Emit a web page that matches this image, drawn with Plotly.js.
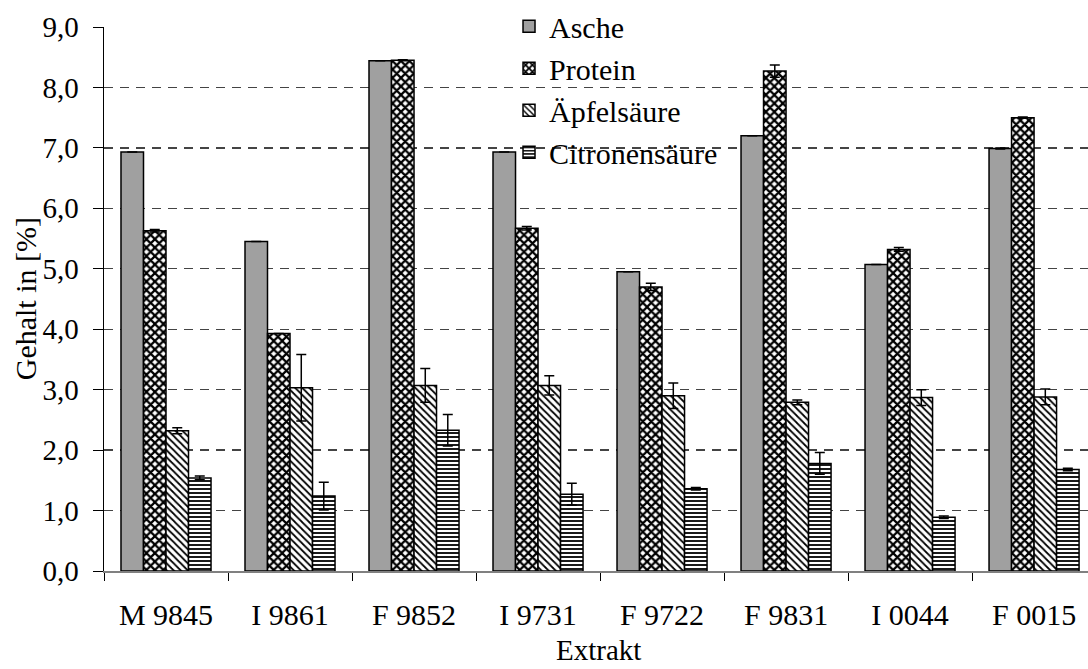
<!DOCTYPE html>
<html>
<head>
<meta charset="utf-8">
<script src="https://cdn.plot.ly/plotly-3.0.1.min.js"></script>
<style>
  html, body { margin: 0; padding: 0; background: #fff; }
  #chart { width: 1088px; height: 669px; }
</style>
</head>
<body>
<div id="chart"></div>
<script>
// ---- data ----
const categories = ['M 9845', 'I 9861', 'F 9852', 'I 9731', 'F 9722', 'F 9831', 'I 0044', 'F 0015'];
const seriesNames = ['Asche', 'Protein', 'Äpfelsäure', 'Citronensäure'];
const asche   = [6.93, 5.45, 8.44, 6.93, 4.95, 7.20, 5.07, 6.99];
const protein = [5.63, 3.93, 8.45, 5.67, 4.70, 8.27, 5.32, 7.50];
const apfel   = [2.32, 3.03, 3.07, 3.07, 2.90, 2.79, 2.87, 2.88];
const citron  = [1.54, 1.24, 2.33, 1.27, 1.36, 1.78, 0.89, 1.68];
const ascheErr   = [0, 0, 0, 0, 0, 0, 0, 0.01];
const proteinErr = [0.02, 0, 0.01, 0.03, 0.06, 0.10, 0.03, 0.01];
const apfelErr   = [0.05, 0.55, 0.28, 0.16, 0.21, 0.04, 0.13, 0.13];
const citronErr  = [0.03, 0.23, 0.26, 0.18, 0.02, 0.18, 0.02, 0.02];
const yTicks = [0, 1, 2, 3, 4, 5, 6, 7, 8, 9];
const xTitle = 'Extrakt';
const yTitle = 'Gehalt in [%]';

const FONT = 'Liberation Serif';
const fnt = (s) => ({ family: FONT, size: s, color: '#000' });
const outline = { color: '#000', width: 1.5 };
const errStyle = (arr) => ({ type: 'data', array: arr, visible: true, color: '#000', thickness: 1.5, width: 5 });

const traces = [
  { name: seriesNames[0], y: asche, err: ascheErr,
    marker: { color: '#a0a0a0', line: outline } },
  { name: seriesNames[1], y: protein, err: proteinErr,
    marker: { color: '#fff', line: outline, pattern: { shape: 'x', size: 6, solidity: 0.6, fgcolor: '#000', bgcolor: '#fff', fillmode: 'replace' } } },
  { name: seriesNames[2], y: apfel, err: apfelErr,
    marker: { color: '#fff', line: outline, pattern: { shape: '\\', size: 5, solidity: 0.35, fgcolor: '#000', bgcolor: '#fff', fillmode: 'replace' } } },
  { name: seriesNames[3], y: citron, err: citronErr,
    marker: { color: '#fff', line: outline, pattern: { shape: '-', size: 4, solidity: 0.45, fgcolor: '#000', bgcolor: '#fff', fillmode: 'replace' } } }
].map(t => ({
  type: 'bar', x: categories, y: t.y, name: t.name, marker: t.marker,
  error_y: errStyle(t.err), hoverinfo: 'none'
}));

const layout = {
  width: 1088, height: 669,
  margin: { l: 104, r: 0, t: 27, b: 98 },
  paper_bgcolor: '#fff', plot_bgcolor: '#fff',
  font: fnt(30),
  separators: ',.',
  barmode: 'group', bargap: 0.274, bargroupgap: 0,
  showlegend: true,
  legend: {
    x: 0.4116, xanchor: 'left', y: 1.049, yanchor: 'top',
    bgcolor: 'rgba(255,255,255,0)', font: fnt(30),
    tracegroupgap: 0
  },
  xaxis: {
    type: 'category', range: [-0.5, 7.435],
    showline: true, linecolor: '#808080', linewidth: 1.5,
    ticks: 'outside', tickson: 'boundaries', ticklen: 8, tickcolor: '#000', tickwidth: 1,
    showgrid: false, zeroline: false,
    tickfont: fnt(30),
    ticklabelstandoff: 16
  },
  yaxis: {
    range: [0, 9], tickvals: yTicks, tickformat: '.1f',
    showline: true, linecolor: '#000', linewidth: 1.5,
    ticks: 'outside', ticklen: 10, tickcolor: '#000', tickwidth: 1,
    showgrid: true, gridcolor: '#444', gridwidth: 1.3, griddash: '9px,7px',
    zeroline: false,
    tickfont: fnt(29),
    ticklabelstandoff: 8
  },
  annotations: [
    { text: xTitle, xref: 'paper', yref: 'paper', x: 0.503, y: -0.1452,
      xanchor: 'center', yanchor: 'middle', showarrow: false, font: fnt(29), borderpad: 0 },
    { text: yTitle, xref: 'paper', yref: 'paper', x: -0.08, y: 0.5, textangle: -90,
      xanchor: 'center', yanchor: 'middle', showarrow: false, font: fnt(30), borderpad: 0 }
  ]
};

Plotly.newPlot('chart', traces, layout, { displayModeBar: false, staticPlot: true });
</script>
</body>
</html>
